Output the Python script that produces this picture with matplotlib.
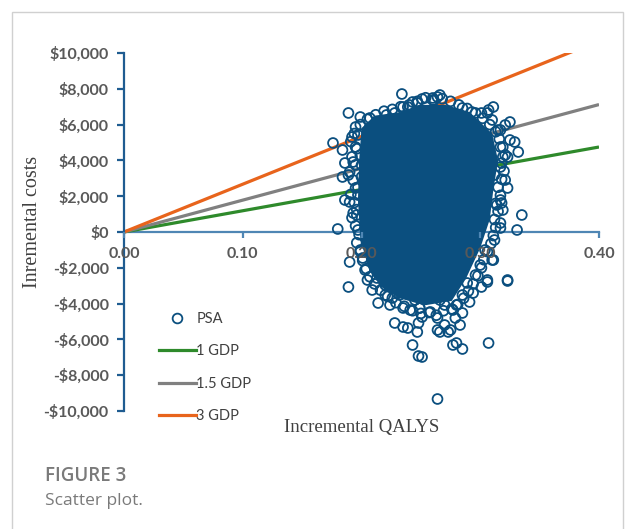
"""
Cost-effectiveness scatter plot (PSA) with willingness-to-pay lines.
Recreates "FIGURE 3 - Scatter plot." and saves it as out.png.
"""

import matplotlib
matplotlib.use("Agg")
import matplotlib.pyplot as plt
from matplotlib.lines import Line2D
from matplotlib.patches import Rectangle

# --- DATA ---
# Willingness-to-pay thresholds, incremental cost per QALY
WTP_LABELS = ["1 GDP", "1.5 GDP", "3 GDP"]
WTP_PER_QALY = [11870, 17800, 26700]
WTP_COLORS = ["#2e8a2b", "#808080", "#e8641c"]
LINE_QALY = [0.0, 0.40]

# PSA iterations that are still visible as separate circles (QALY, cost)
PSA_QALY = [
    # scattered outliers
    0.234, 0.189, 0.199, 0.195, 0.207, 0.176, 0.184, 0.192, 0.195, 0.186,
    0.184, 0.195, 0.186, 0.190, 0.193, 0.180, 0.197, 0.311, 0.306, 0.325,
    0.321, 0.317, 0.325, 0.329, 0.332, 0.317, 0.319, 0.323, 0.317, 0.318,
    0.335, 0.331, 0.317, 0.251, 0.264, 0.260, 0.243, 0.235, 0.190, 0.201,
    0.189, 0.213, 0.213, 0.220, 0.214, 0.230, 0.232, 0.228, 0.235, 0.239,
    0.247, 0.248, 0.243, 0.248, 0.249, 0.264, 0.264, 0.270, 0.264, 0.275,
    0.283, 0.277, 0.280, 0.285, 0.307, 0.323, 0.294, 0.301, 0.306, 0.310,
    0.249, 0.251, 0.235, 0.241, 0.285, 0.291, 0.277, 0.280, 0.289, 0.260,
    0.266, 0.307, 0.310, 0.315, 0.323, 0.317, 0.321, 0.285, 0.293, 0.301,
    0.247, 0.239, 0.221, 0.228, 0.199, 0.193, 0.189, 0.200, 0.323, 0.306,
    0.311, 0.317, 0.319, 0.266, 0.273, 0.251, 0.224, 0.258, 0.270, 0.245,
    0.266, 0.220, 0.209, 0.205, 0.203, 0.285, 0.296, 0.300, 0.304, 0.312,
    0.314, 0.312, 0.199, 0.196, 0.197, 0.200, 0.197, 0.226, 0.279,
    # circles crowding the edge of the dense centre
    0.194, 0.191, 0.196, 0.192, 0.195, 0.190, 0.193, 0.197, 0.191, 0.194,
    0.196, 0.192, 0.195, 0.198, 0.196, 0.199, 0.201, 0.204, 0.207, 0.211,
    0.216, 0.222, 0.229, 0.236, 0.243, 0.250, 0.257, 0.263, 0.269, 0.276,
    0.281, 0.286, 0.290, 0.294, 0.298, 0.301, 0.303, 0.306, 0.309, 0.311,
    0.313, 0.312, 0.315, 0.313, 0.317, 0.315, 0.318, 0.320, 0.318, 0.321,
    0.319, 0.316, 0.313, 0.308, 0.302, 0.296, 0.289, 0.282, 0.275, 0.268,
    0.261, 0.254, 0.247, 0.240, 0.233, 0.226, 0.219, 0.212, 0.205, 0.199,
]
PSA_COST = [
    # scattered outliers
    7710, 6650, 6425, 5866, 6369, 4972, 4581, 5308, 4749, 3855,
    3073, 2458, 1788, 1676, 1062, 168, 112, 6984, 6649, 6146,
    5978, 5699, 5140, 5028, 4470, 4749, 4190, 2458, 1788, 1620,
    950, 112, 223, 7431, 7542, 7375, 7263, 6984, -1676, -1453,
    -3073, -2235, -2570, -2961, -3967, -3408, -3520, -5084, -5308, -5364,
    -5587, -5084, -6313, -6928, -4246, -9330, -4805, -5196, -5475, -5475,
    -5196, -6313, -6202, -6537, -6202, -2738, -3408, -3073, -2794, -1564,
    -4246, -4749, -4246, -4358, -4525, -3911, -4358, -4078, -2849, 7487,
    7654, 6816, 6257, 5699, 4190, 3632, 2905, 6928, 6704, 6649,
    7207, 6984, 6537, 6649, 4302, 3911, 3185, 3073, -2682, -2682,
    -1564, 503, 1229, -5587, -5587, -6984, -4078, -4470, -4078, -3799,
    -3799, -3520, -3240, -2682, -2123, -3520, -2402, -1844, -1006, -447,
    1508, 3185, -1006, 950, 2067, 3743, 5419, -3687, -4805,
    # circles crowding the edge of the dense centre
    5500, 5050, 4650, 4200, 3750, 3350, 2900, 2500, 2100, 1650,
    1250, 800, 350, -150, -600, -1100, -1600, -2050, -2500, -2900,
    -3250, -3600, -3950, -4150, -4400, -4550, -4500, -4650, -4400, -4300,
    -4050, -3700, -3300, -2900, -2450, -2000, -1550, -1100, -650, -200,
    250, 700, 1150, 1600, 2050, 2500, 2950, 3400, 3850, 4300,
    4750, 5200, 5600, 6000, 6350, 6650, 6900, 7100, 7300, 7450,
    7350, 7500, 7300, 7100, 7000, 6850, 6750, 6550, 6300, 6000,
]

# Outline of the dense centre of the cloud, where the circles merge into one blue mass
CORE_QALY = [0.200, 0.211, 0.233, 0.249, 0.271, 0.291, 0.310, 0.315, 0.311, 0.308,
             0.300, 0.288, 0.276, 0.253, 0.232, 0.216, 0.206, 0.199, 0.197, 0.198]
CORE_COST = [5800, 6500, 6700, 7100, 7100, 6700, 5500, 4000, 2350, 700,
             -900, -2600, -3850, -4100, -3700, -3050, -2000, -400, 1800, 4000]

Y_TICKS = [10000, 8000, 6000, 4000, 2000, 0, -2000, -4000, -6000, -8000, -10000]
Y_TICK_LABELS = ["$10,000", "$8,000", "$6,000", "$4,000", "$2,000", "$0",
                 "-$2,000", "-$4,000", "-$6,000", "-$8,000", "-$10,000"]
X_TICKS = [0.0, 0.1, 0.2, 0.3, 0.4]
X_TICK_LABELS = ["0.00", "0.10", "0.20", "0.30", "0.40"]

# --- STYLE ---
PSA_BLUE = "#0b4f7f"
AXIS_BLUE = "#1f5c91"
XAXIS_BLUE = "#4f86b4"
TICK_GREY = "#595959"
TEXT_FONT = ["Lato", "DejaVu Sans"]
SERIF_FONT = ["Liberation Serif", "DejaVu Serif"]
CAPTION_FONT = ["Open Sans", "DejaVu Sans"]


def draw_chart():
    """Build the figure and save it as out.png."""
    fig = plt.figure(figsize=(6.25, 5.29), dpi=100)
    ax = fig.add_axes([0.1984, 0.2231, 0.76, 0.6767])

    # threshold lines sit under the PSA cloud
    for label, wtp, color in zip(WTP_LABELS, WTP_PER_QALY, WTP_COLORS):
        costs = [q * wtp for q in LINE_QALY]
        ax.plot(LINE_QALY, costs, color=color, lw=2.3, zorder=1.2,
                solid_capstyle="butt", label=label)

    ax.fill(CORE_QALY, CORE_COST, color=PSA_BLUE, lw=0, zorder=1.6)
    ax.scatter(PSA_QALY, PSA_COST, s=50, facecolors="none",
               edgecolors=PSA_BLUE, linewidths=1.3, zorder=1.8)

    ax.set_xlim(0, 0.40)
    ax.set_ylim(-10000, 10000)

    for side in ["top", "right"]:
        ax.spines[side].set_visible(False)
    ax.spines["bottom"].set_position(("data", 0))
    ax.spines["bottom"].set_color(XAXIS_BLUE)
    ax.spines["bottom"].set_linewidth(1.6)
    ax.spines["bottom"].set_zorder(1.0)
    ax.spines["left"].set_color(AXIS_BLUE)
    ax.spines["left"].set_linewidth(1.6)
    ax.xaxis.set_zorder(3)

    ax.set_yticks(Y_TICKS)
    ax.set_yticklabels(Y_TICK_LABELS)
    ax.set_xticks(X_TICKS)
    ax.set_xticklabels(X_TICK_LABELS)
    ax.tick_params(axis="y", direction="out", length=5, width=1.6,
                   color=AXIS_BLUE, pad=6, labelcolor=TICK_GREY)
    ax.tick_params(axis="x", direction="out", length=4, width=1.6,
                   color=XAXIS_BLUE, pad=7, labelcolor=TICK_GREY)
    for lbl in ax.get_yticklabels() + ax.get_xticklabels():
        lbl.set_family(TEXT_FONT)
        lbl.set_fontweight("bold")
        lbl.set_fontsize(11.5)

    fig.text(0.052, 0.58, "Inremental costs", rotation=90, ha="center",
             va="center", family=SERIF_FONT, fontsize=14.5, color="#404040")
    fig.text(0.579, 0.191, "Incremental QALYS", ha="center", va="center",
             family=SERIF_FONT, fontsize=13.5, color="#404040")

    handles = [Line2D([], [], ls="none", marker="o", ms=7, mfc="none",
                      mec=PSA_BLUE, mew=1.3, label="PSA")]
    handles += [Line2D([], [], color=c, lw=2.3, label=l)
                for l, c in zip(WTP_LABELS, WTP_COLORS)]
    leg = ax.legend(handles=handles, loc="lower left",
                    bbox_to_anchor=(0.045, -0.07), frameon=False,
                    handlelength=2.6, handletextpad=0.0, labelspacing=1.25,
                    prop={"family": TEXT_FONT, "size": 10.5})
    for t in leg.get_texts():
        t.set_color("#404040")

    # caption and page frame
    fig.text(0.072, 0.100, "FIGURE 3", family=CAPTION_FONT,
             fontweight="semibold", fontsize=13.5, color="#7a7a7a", va="center")
    fig.text(0.072, 0.053, "Scatter plot.", family=CAPTION_FONT,
             fontsize=12.5, color="#7a7a7a", va="center")
    fig.patches.append(Rectangle((0.019, -0.05), 0.978, 1.027,
                                 transform=fig.transFigure, fill=False,
                                 edgecolor="#d0d0d0", lw=1.0))

    fig.savefig("out.png", dpi=100)
    plt.close(fig)


def main():
    draw_chart()


if __name__ == "__main__":
    main()
